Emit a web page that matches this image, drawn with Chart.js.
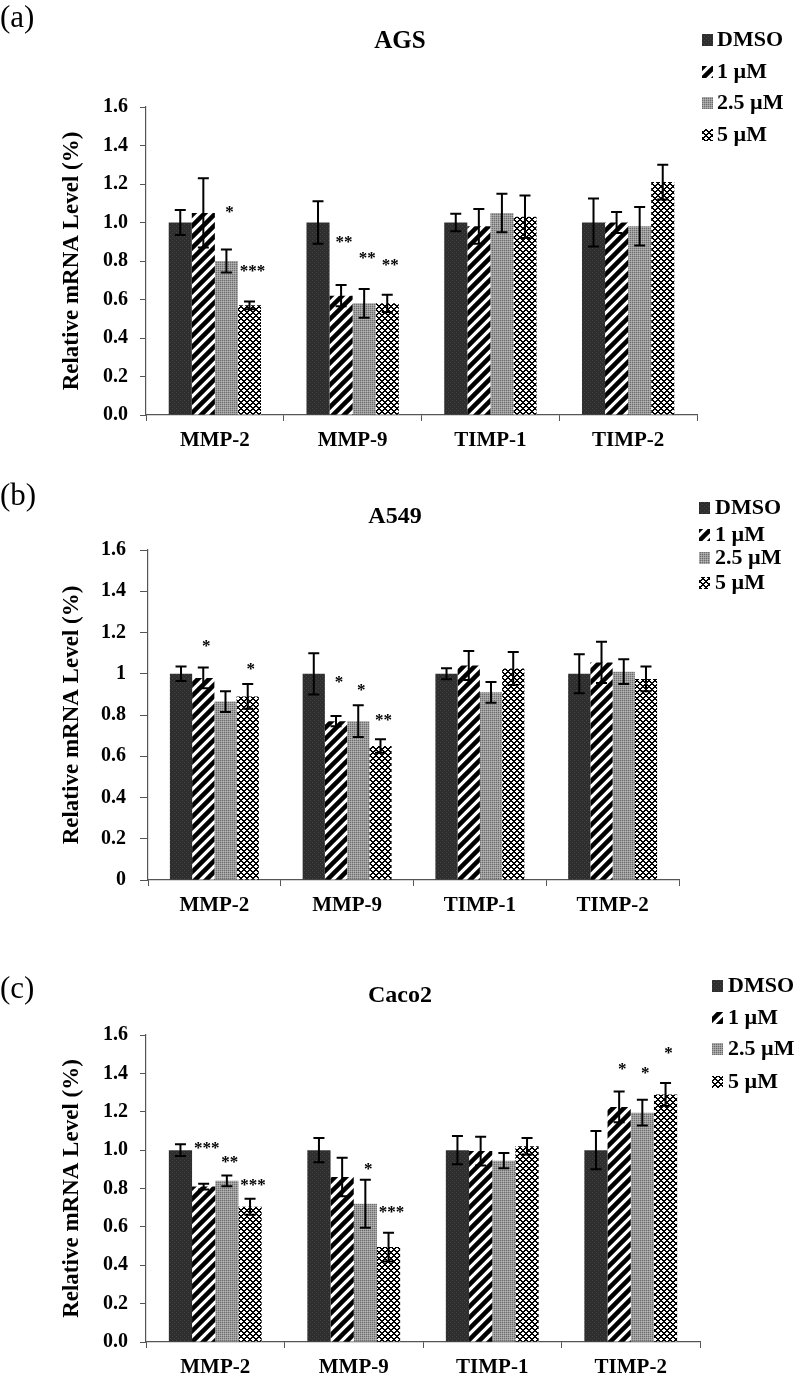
<!DOCTYPE html>
<html>
<head>
<meta charset="UTF-8">
<title>MMP / TIMP mRNA levels</title>
<script src="https://cdn.jsdelivr.net/npm/chart.js"></script>
<style>
  body { margin: 0; background: #fff; }
  .panel { position: absolute; left: 0; width: 800px; }
  canvas { display: block; }
</style>
</head>
<body>
<div class="panel" style="top:0"><canvas id="chartA" width="800" height="470"></canvas></div>
<div class="panel" style="top:470px"><canvas id="chartB" width="800" height="470"></canvas></div>
<div class="panel" style="top:940px"><canvas id="chartC" width="800" height="440"></canvas></div>
<script>
// ---- data (rows = DMSO, 1 uM, 2.5 uM, 5 uM) ----
const categories = ['MMP-2', 'MMP-9', 'TIMP-1', 'TIMP-2'];
const doses = ['DMSO', '1 µM', '2.5 µM', '5 µM'];
const yMin = 0, yMax = 1.6, yStep = 0.2;

const agsMeans = [
  [1.00, 1.00, 1.00, 1.00],
  [1.05, 0.62, 0.98, 1.00],
  [0.80, 0.58, 1.05, 0.98],
  [0.57, 0.58, 1.03, 1.21]
];
const agsErrors = [
  [0.065, 0.11, 0.045, 0.125],
  [0.18, 0.055, 0.09, 0.055],
  [0.06, 0.075, 0.10, 0.10],
  [0.02, 0.045, 0.11, 0.09]
];
const agsStars = [
  ['', '', '', ''],
  ['', '**', '', ''],
  ['*', '**', '', ''],
  ['***', '**', '', '']
];
const agsStarY = [
  [null, null, null, null],
  [null, 0.91, null, null],
  [1.065, 0.83, null, null],
  [0.76, 0.79, null, null]
];

const a549Means = [
  [1.00, 1.00, 1.00, 1.00],
  [0.98, 0.77, 1.04, 1.055],
  [0.865, 0.77, 0.91, 1.01],
  [0.89, 0.65, 1.025, 0.975]
];
const a549Errors = [
  [0.035, 0.10, 0.027, 0.095],
  [0.05, 0.025, 0.07, 0.10],
  [0.05, 0.077, 0.05, 0.06],
  [0.06, 0.033, 0.08, 0.06]
];
const a549Stars = [
  ['', '', '', ''],
  ['*', '*', '', ''],
  ['', '*', '', ''],
  ['*', '**', '', '']
];
const a549StarY = [
  [null, null, null, null],
  [1.144, 0.97, null, null],
  [null, 0.934, null, null],
  [1.037, 0.788, null, null]
];

const caco2Means = [
  [1.00, 1.00, 1.00, 1.00],
  [0.81, 0.86, 0.995, 1.225],
  [0.84, 0.72, 0.945, 1.195],
  [0.705, 0.495, 1.02, 1.29]
];
const caco2Errors = [
  [0.03, 0.063, 0.073, 0.10],
  [0.015, 0.10, 0.075, 0.08],
  [0.028, 0.125, 0.04, 0.067],
  [0.042, 0.075, 0.043, 0.06]
];
const caco2Stars = [
  ['', '', '', ''],
  ['***', '', '', '*'],
  ['**', '*', '', '*'],
  ['***', '***', '', '*']
];
const caco2StarY = [
  [null, null, null, null],
  [1.026, null, null, 1.437],
  [0.952, 0.914, null, 1.413],
  [0.832, 0.69, null, 1.52]
];

// ---- fill patterns ----
function makePattern(kind) {
  const c = document.createElement('canvas');
  const g = c.getContext('2d');
  if (kind === 'solid') {
    c.width = c.height = 4;
    g.fillStyle = '#2e2e2e'; g.fillRect(0, 0, 4, 4);
    g.fillStyle = '#444'; g.fillRect(0, 0, 1, 1); g.fillRect(2, 2, 1, 1);
  } else if (kind === 'stripe') {
    c.width = c.height = 11;
    g.fillStyle = '#fff'; g.fillRect(0, 0, 11, 11);
    g.strokeStyle = '#000'; g.lineWidth = 4.5;
    g.beginPath();
    g.moveTo(0, 11); g.lineTo(11, 0);
    g.moveTo(-2, 2); g.lineTo(2, -2);
    g.moveTo(9, 13); g.lineTo(13, 9);
    g.stroke();
  } else if (kind === 'gray') {
    c.width = c.height = 2;
    g.fillStyle = '#9c9c9c'; g.fillRect(0, 0, 2, 2);
    g.fillStyle = '#6c6c6c'; g.fillRect(0, 0, 1, 1);
    g.fillStyle = '#b4b4b4'; g.fillRect(1, 1, 1, 1);
  } else {
    c.width = c.height = 6;
    g.fillStyle = '#fff'; g.fillRect(0, 0, 6, 6);
    g.fillStyle = '#000';
    for (let y = 0; y < 6; y++) {
      for (let x = 0; x < 6; x++) {
        if ((x + y) % 6 < 2 || (x - y + 6) % 6 < 2) g.fillRect(x, y, 1, 1);
      }
    }
  }
  return g.createPattern(c, 'repeat');
}
const fills = [makePattern('solid'), makePattern('stripe'), makePattern('gray'), makePattern('weave')];

const serif = 'Liberation Serif, Times New Roman, serif';

// error bars, stars, panel letter, title, legend
const decorPlugin = {
  id: 'decor',
  afterDatasetsDraw(chart) {
    const ctx = chart.ctx;
    const ys = chart.scales.y;
    ctx.save();
    chart.data.datasets.forEach((ds, di) => {
      const meta = chart.getDatasetMeta(di);
      meta.data.forEach((bar, i) => {
        const v = ds.data[i], e = ds.errors[i];
        const t = ys.getPixelForValue(v + e), b = ys.getPixelForValue(v - e);
        ctx.strokeStyle = '#000';
        ctx.lineWidth = 2;
        ctx.beginPath();
        ctx.moveTo(bar.x, t); ctx.lineTo(bar.x, b);
        ctx.moveTo(bar.x - 5.5, t); ctx.lineTo(bar.x + 5.5, t);
        ctx.moveTo(bar.x - 5.5, b); ctx.lineTo(bar.x + 5.5, b);
        ctx.stroke();
        if (ds.stars[i]) {
          ctx.fillStyle = '#000';
          ctx.font = 'bold 17px ' + serif;
          ctx.textAlign = 'center';
          ctx.textBaseline = 'middle';
          ctx.fillText(ds.stars[i], bar.x + 3, ys.getPixelForValue(ds.starY[i]) + 3);
        }
      });
    });
    ctx.restore();
  },
  afterDraw(chart) {
    const o = chart.options.plugins.decor;
    const ctx = chart.ctx;
    ctx.save();
    ctx.fillStyle = '#000';
    ctx.textBaseline = 'middle';
    ctx.textAlign = 'left';
    ctx.font = '31px ' + serif;
    ctx.fillText(o.letter, 0, o.letterY);
    ctx.textAlign = 'center';
    ctx.font = o.titleFont + ' ' + serif;
    ctx.fillText(o.title, o.titleX, o.titleY);
    ctx.textAlign = 'left';
    ctx.font = 'bold 22px ' + serif;
    chart.data.datasets.forEach((ds, i) => {
      const ry = o.legendRows[i];
      ctx.fillStyle = ds.backgroundColor;
      ctx.fillRect(o.boxX, ry - 6, 11, 12);
      ctx.fillStyle = '#000';
      ctx.fillText(ds.label, o.textX, ry);
    });
    ctx.restore();
  }
};

function makeChart(id, p) {
  const datasets = doses.map((d, i) => ({
    label: d,
    data: p.means[i],
    errors: p.errors[i],
    stars: p.stars[i],
    starY: p.starY[i],
    backgroundColor: fills[i],
    borderWidth: 0,
    categoryPercentage: 0.67,
    barPercentage: 1.0
  }));
  return new Chart(document.getElementById(id), {
    type: 'bar',
    data: { labels: categories, datasets },
    plugins: [decorPlugin],
    options: {
      responsive: false,
      animation: false,
      layout: { padding: p.padding },
      plugins: {
        legend: { display: false },
        tooltip: { enabled: false },
        decor: p.decor
      },
      scales: {
        x: {
          grid: { drawOnChartArea: false, tickLength: 6, color: '#555' },
          border: { color: '#555', width: 1.2 },
          ticks: { color: '#000', padding: 7, font: { family: serif, size: 21, weight: 'bold' } },
          afterFit: s => { s.height = p.xHeight; }
        },
        y: {
          min: yMin, max: yMax,
          grid: { drawOnChartArea: false, tickLength: p.yTickLen, color: '#555' },
          border: { color: '#555', width: 1.2 },
          ticks: {
            stepSize: yStep, color: '#000', padding: p.yTickPad,
            font: { family: serif, size: 20, weight: 'bold' },
            callback: p.tickFmt
          },
          title: {
            display: true, text: 'Relative mRNA Level (%)', color: '#000',
            font: { family: serif, size: 23, weight: 'bold' },
            padding: { top: 58, bottom: 0 }
          },
          afterFit: s => { s.width = p.yWidth; }
        }
      }
    }
  });
}

const oneDecimal = v => Number(v).toFixed(1);
const plainNum = v => String(+Number(v).toFixed(1));

makeChart('chartA', {
  means: agsMeans, errors: agsErrors, stars: agsStars, starY: agsStarY,
  padding: { left: 0, right: 103, top: 107, bottom: 5 },
  yWidth: 146, xHeight: 50, yTickLen: 6, yTickPad: 12, tickFmt: oneDecimal,
  decor: { letter: '(a)', letterY: 19, title: 'AGS', titleFont: 'bold 25px', titleX: 400, titleY: 42,
           legendRows: [40, 72, 103, 135], boxX: 702, textX: 717 }
});
makeChart('chartB', {
  means: a549Means, errors: a549Errors, stars: a549Stars, starY: a549StarY,
  padding: { left: 0, right: 121, top: 80, bottom: 10 },
  yWidth: 148, xHeight: 50, yTickLen: 8, yTickPad: 14, tickFmt: plainNum,
  decor: { letter: '(b)', letterY: 27, title: 'A549', titleFont: 'bold 24px', titleX: 395, titleY: 47,
           legendRows: [38, 65, 88, 113], boxX: 699, textX: 715 }
});
makeChart('chartC', {
  means: caco2Means, errors: caco2Errors, stars: caco2Stars, starY: caco2StarY,
  padding: { left: 0, right: 100, top: 95, bottom: 0 },
  yWidth: 146, xHeight: 38, yTickLen: 6, yTickPad: 12, tickFmt: oneDecimal,
  decor: { letter: '(c)', letterY: 50, title: 'Caco2', titleFont: 'bold 24px', titleX: 400, titleY: 56,
           legendRows: [46, 78, 109, 142], boxX: 712, textX: 728 }
});
</script>
</body>
</html>
